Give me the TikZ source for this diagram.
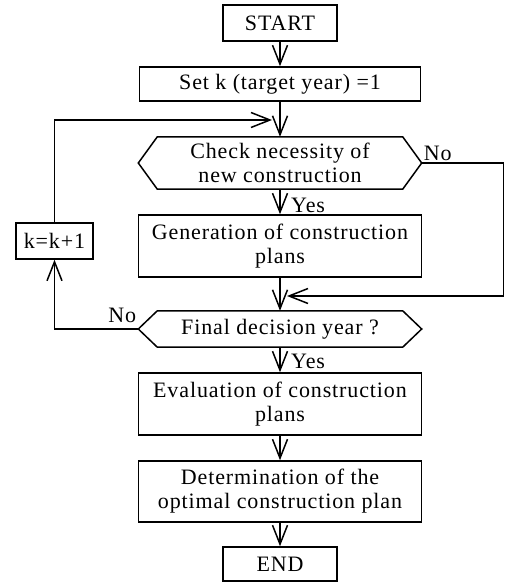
\documentclass[tikz,border=0pt]{standalone}
\usepackage{fontspec}
\setmainfont{Liberation Serif}[LetterSpace=4]
\usetikzlibrary{arrows.meta, calc}

\begin{document}
\begin{tikzpicture}[
    x=1pt, y=-1pt,
    >={Straight Barb[length=19pt,width=15pt]},
    every node/.style={font=\fontsize{22}{24}\selectfont, inner sep=2pt},
    box/.style={draw, line width=1.5pt, inner sep=0pt, align=center},
    hexbox/.style={inner sep=0pt, align=center},
    flow/.style={->, line width=1.5pt},
]
\useasboundingbox (0,0) rectangle (505,583);
% main column of the flow
\node[box, minimum width=114pt, minimum height=36pt] (start) at (280,23) {START};
\node[box, minimum width=281pt, minimum height=34pt] (setk) at (280,84) {Set k (target year) =1};
\node[hexbox, minimum width=283pt, minimum height=52pt] (check) at (280,163)
   {Check necessity of\\new construction};
\node[box, minimum width=283pt, minimum height=62pt] (gen) at (280,246)
   {Generation of construction\\plans};
\node[hexbox, minimum width=283pt, minimum height=36pt] (final) at (280,329) {Final decision year ?};
\node[box, minimum width=283pt, minimum height=62pt] (eval) at (280,404)
   {Evaluation of construction\\plans};
\node[box, minimum width=283pt, minimum height=61pt] (determ) at (280,491.5)
   {Determination of the\\optimal construction plan};
\node[box, minimum width=114pt, minimum height=34pt] (end) at (280,564) {END};
% counter box on the left
\node[box, minimum width=77pt, minimum height=36pt] (kinc) at (54.5,241) {k=k+1};
% hexagon outlines of the two decisions
\foreach \n in {check,final} {
   \draw[line width=1.5pt] (\n.west) -- ([xshift=19pt]\n.north west) -- ([xshift=-19pt]\n.north east)
      -- (\n.east) -- ([xshift=-19pt]\n.south east) -- ([xshift=19pt]\n.south west) -- cycle;
}
% straight connectors
\draw[flow] (start) -- (setk);
\draw[flow] (setk) -- (check);
\draw[flow] (check) -- (gen);
\draw[flow] (gen) -- (final);
\draw[flow] (final) -- (eval);
\draw[flow] (eval) -- (determ);
\draw[flow] (determ) -- (end);
% branch around generation, and the year loop
\coordinate (ret) at (287,296);
\coordinate (loop) at (272,120);
\draw[flow] (check.east) -- ++(82,0) |- (ret);
\draw[flow] (final.west) -| (kinc);
\draw[flow] (kinc) |- (loop);
% branch labels
\node[anchor=south west] (no1) at (check.east) {No};
\node[anchor=south east] (no2) at ([yshift=4pt]final.west) {No};
\node[anchor=base west] (yes1) at ($(check.south)+(9,23)$) {Yes};
\node[anchor=base west] (yes2) at ($(final.south)+(9,21)$) {Yes};
\end{tikzpicture}
\end{document}
